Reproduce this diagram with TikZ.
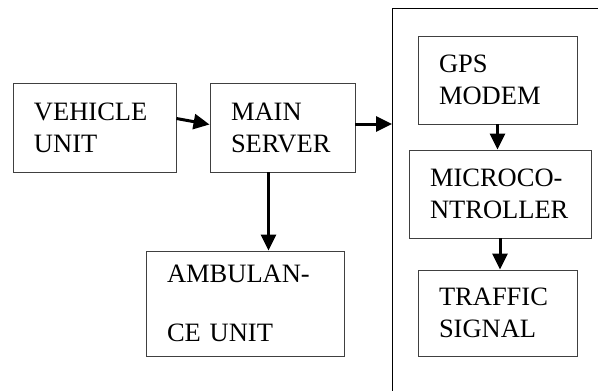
\documentclass[tikz,border=0pt]{standalone}
\usepackage{fontspec}
\setmainfont{Liberation Serif}
\usetikzlibrary{arrows.meta,positioning}

\begin{document}
\begin{tikzpicture}[x=1pt, y=-1pt, font=\fontsize{26.5}{32}\selectfont,
  blk/.style={draw=black!75, line width=0.9pt, inner xsep=21pt, inner ysep=0pt, align=left},
  flow/.style={-{Triangle[length=16pt,width=15pt]}, line width=3pt}]
  \useasboundingbox (0,0) rectangle (598,391);
  \clip (0,0) rectangle (598,391);
  % outer frame of the signal side (runs off the page)
  \node[draw, line width=0.9pt, anchor=north west, minimum width=260pt, minimum height=420pt] (frame) at (392,8) {};
  % boxes
  \node[blk, text width=121pt, minimum width=163pt, minimum height=89pt] (veh) at (94.5,127.5) {VEHICLE\\UNIT};
  \node[blk, text width=103pt, minimum width=145pt, minimum height=89pt] (main) at (282.5,127.5) {MAIN\\SERVER};
  \node[blk, text width=156pt, minimum width=198pt, minimum height=105pt] (amb) at (245,303.5) {AMBULAN-\\[27pt]CE UNIT};
  \node[blk, text width=117pt, minimum width=159pt, minimum height=88pt] (gps) at (497.5,80) {GPS\\MODEM};
  \node[blk, text width=140pt, minimum width=182pt, minimum height=88pt] (micro) at (500,194) {MICROCO-\\NTROLLER};
  \node[blk, text width=117pt, minimum width=159pt, minimum height=86pt] (traffic) at (497.5,313) {TRAFFIC\\SIGNAL};
  % connectors
  \draw[flow] ([yshift=9pt]veh.east) -- ([yshift=3pt]main.west);
  \draw[flow] ([yshift=3.5pt]main.east) -- ([yshift=3.5pt]main.east -| frame.west);
  \draw[flow] ([xshift=-14pt]main.south) -- ([xshift=-14pt]main.south |- amb.north);
  \draw[flow] (gps.south) -- (gps.south |- micro.north);
  \draw[flow] (micro.south) -- (micro.south |- traffic.north);
\end{tikzpicture}
\end{document}
